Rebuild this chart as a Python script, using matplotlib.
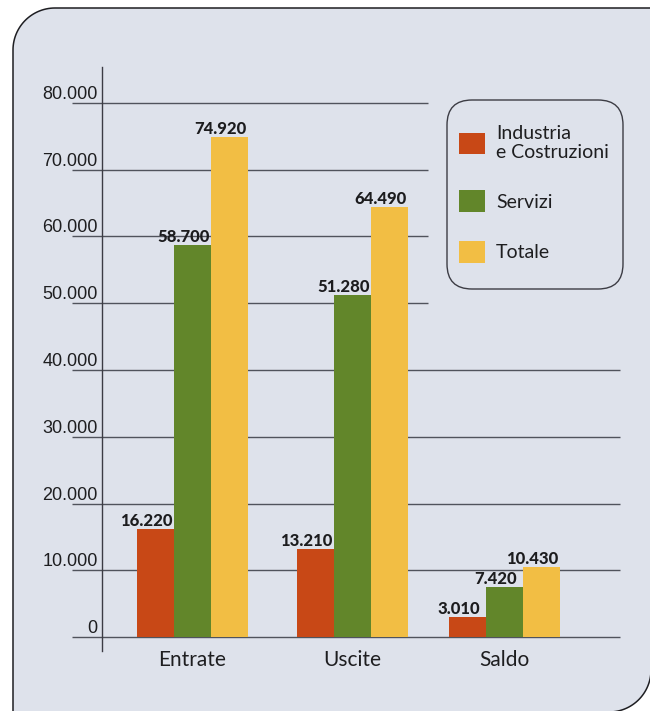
import numpy as np
import matplotlib.pyplot as plt
from matplotlib.patches import PathPatch, FancyBboxPatch
from matplotlib.path import Path
from matplotlib.transforms import Affine2D

# data
categories = ['Entrate', 'Uscite', 'Saldo']
industria = [16220, 13210, 3010]
servizi = [58700, 51280, 7420]
totale = [74920, 64490, 10430]
series_names = ['Industria\ne Costruzioni', 'Servizi', 'Totale']
yticks = [0, 10000, 20000, 30000, 40000, 50000, 60000, 70000, 80000]
ytick_labels = ['0', '10.000', '20.000', '30.000', '40.000',
                '50.000', '60.000', '70.000', '80.000']

colors = ['#c84816', '#62862a', '#f2be44']
bg = '#dee2eb'
narrow = ['Liberation Sans Narrow', 'Lato', 'DejaVu Sans']

W, H = 650, 711
fig = plt.figure(figsize=(W / 100, H / 100), dpi=100, facecolor='white')
px = Affine2D().scale(1 / W, -1 / H).translate(0, 1) + fig.transFigure

# background panel: rounded top-left and bottom-right corners
t = np.linspace(0, np.pi / 2, 30)
r = 42
tl = list(zip(13 + r - r * np.cos(t), 8 + r - r * np.sin(t)))
br = list(zip(651 - r + r * np.cos(t), 712 - r + r * np.sin(t)))
fill = [(13, 760)] + tl + [(700, 8), (700, 670)] + br + [(13, 760)]
fig.add_artist(PathPatch(Path(fill, closed=True), facecolor=bg, lw=0,
                         transform=px, zorder=0))
edge1 = [(13, 760)] + tl + [(700, 8)]
fig.add_artist(PathPatch(Path(edge1), facecolor='none', edgecolor='#1e1e22',
                         lw=1.1, transform=px, zorder=0.5))
fig.add_artist(PathPatch(Path([(651, 600)] + br + [(560, 712)]), facecolor='none',
                         edgecolor='#1e1e22', lw=1.1, transform=px, zorder=0.5))

# axes
ax = fig.add_axes([102 / W, 1 - 651 / H, 520 / W, 584 / H])
ax.patch.set_alpha(0)
ax.set_ylim(-2097, 85393)
ax.set_xlim(-0.5656, 2.6844)

x = np.array([0, 1, 1.95])
w = 0.231

# horizontal lines (short ones stop at the legend)
for v in yticks:
    x1 = 1.472 if v >= 50000 else 2.672
    ax.plot([-0.753, x1], [v, v], color='#50535c', lw=1.0,
            clip_on=False, zorder=1, solid_capstyle='butt')

bars = []
for i, vals in enumerate([industria, servizi, totale]):
    b = ax.bar(x + (i - 1) * w, vals, w, color=colors[i], zorder=2)
    bars.append(b)
    for xi, v in zip(x + (i - 1) * w, vals):
        ax.annotate(f'{v:,}'.replace(',', '.'), (xi, v), xytext=(-6.5, 0),
                    textcoords='offset points', ha='center', va='bottom',
                    fontsize=12, fontweight='black', family='Lato',
                    color='#1c1c1e')

for s in ['top', 'right', 'bottom']:
    ax.spines[s].set_visible(False)
ax.spines['left'].set_color('#3c3c44')
ax.spines['left'].set_linewidth(1.0)

ax.set_yticks(yticks, ytick_labels)
ax.tick_params(axis='y', length=0, pad=3, labelsize=13, labelcolor='#1e1e20')
for lbl in ax.get_yticklabels():
    lbl.set_verticalalignment('bottom')
    lbl.set_family('Liberation Sans')

ax.set_xticks(x, categories)
ax.tick_params(axis='x', length=0, pad=-1.0, labelsize=15, labelcolor='#1e1e20')
for lbl in ax.get_xticklabels():
    lbl.set_family(narrow)

# legend
box = FancyBboxPatch((447, 100), 176, 189, boxstyle='round,pad=0,rounding_size=25',
                     facecolor='none', edgecolor='#3c3c44', lw=1.0, transform=px,
                     zorder=3)
fig.add_artist(box)
leg = ax.legend(bars, series_names, loc='upper left', bbox_to_anchor=(459, 125),
                bbox_transform=px, frameon=False, handlelength=1.34,
                handleheight=1.34, handletextpad=0.57, labelspacing=1.5,
                borderpad=0, borderaxespad=0,
                prop={'family': narrow, 'size': 14})
for txt in leg.get_texts():
    txt.set_linespacing(1.15)
    txt.set_color('#1e1e20')

fig.savefig('out.png', dpi=100)
